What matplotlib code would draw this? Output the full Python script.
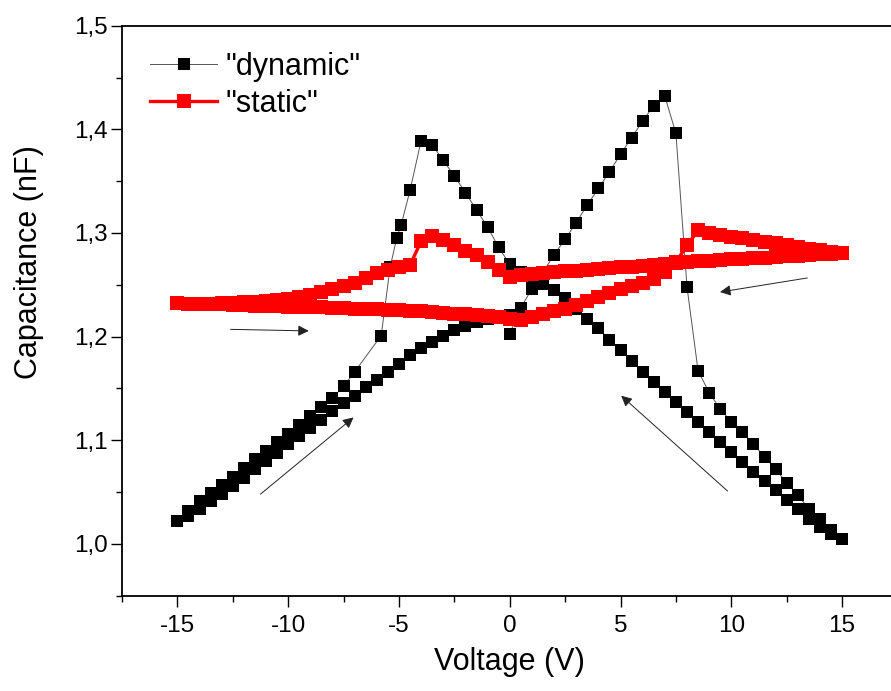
import matplotlib
matplotlib.use("Agg")
import matplotlib.pyplot as plt
from matplotlib.ticker import MultipleLocator, FuncFormatter

plt.rcParams['font.family'] = ['Liberation Sans', 'DejaVu Sans']

# "dynamic" sweep: 0 -> +15 V
dyn_fwd_v = [0, 0.5, 1, 1.5, 2, 2.5, 3, 3.5, 4, 4.5, 5, 5.5, 6, 6.5, 7, 7.5, 8, 8.5,
             9, 9.5, 10, 10.5, 11, 11.5, 12, 12.5, 13, 13.5, 14, 14.5, 15]
dyn_fwd_c = [1.203, 1.228, 1.246, 1.262, 1.279, 1.294, 1.310, 1.327, 1.343, 1.359,
             1.376, 1.392, 1.408, 1.423, 1.432, 1.396, 1.248, 1.167, 1.146, 1.130,
             1.118, 1.108, 1.096, 1.084, 1.072, 1.059, 1.047, 1.034, 1.024, 1.013, 1.005]

# "dynamic" sweep: +15 -> -15 V
dyn_rev_v = [14.5, 14, 13.5, 13, 12.5, 12, 11.5, 11, 10.5, 10, 9.5, 9, 8.5, 8, 7.5, 7,
             6.5, 6, 5.5, 5, 4.5, 4, 3.5, 3, 2.5, 2, 1.5, 1, 0.5, 0, -0.5, -1, -1.5, -2,
             -2.5, -3, -3.5, -4, -4.5, -4.9, -5.1, -5.4, -5.8, -7, -7.5, -8, -8.5, -9,
             -9.5, -10, -10.5, -11, -11.5, -12, -12.5, -13, -13.5, -14, -14.5, -15]
dyn_rev_c = [1.010, 1.016, 1.024, 1.034, 1.042, 1.052, 1.061, 1.069, 1.079, 1.089,
             1.098, 1.108, 1.118, 1.127, 1.137, 1.147, 1.156, 1.166, 1.176, 1.187,
             1.197, 1.208, 1.217, 1.227, 1.237, 1.245, 1.251, 1.256, 1.262, 1.270,
             1.286, 1.306, 1.322, 1.339, 1.355, 1.370, 1.385, 1.389, 1.341, 1.308,
             1.295, 1.267, 1.201, 1.166, 1.152, 1.141, 1.132, 1.123, 1.115, 1.106,
             1.098, 1.090, 1.082, 1.073, 1.065, 1.057, 1.049, 1.041, 1.032, 1.022]

# "dynamic" sweep: -15 -> 0 V
dyn_ret_v = [-14.5, -14, -13.5, -13, -12.5, -12, -11.5, -11, -10.5, -10, -9.5, -9,
             -8.5, -8, -7.5, -7, -6.5, -6, -5.5, -5, -4.5, -4, -3.5, -3, -2.5, -2,
             -1.5, -1, -0.5, 0]
dyn_ret_c = [1.027, 1.034, 1.041, 1.048, 1.056, 1.064, 1.072, 1.080, 1.088, 1.096,
             1.104, 1.112, 1.120, 1.128, 1.136, 1.143, 1.151, 1.158, 1.166, 1.174,
             1.182, 1.189, 1.195, 1.201, 1.206, 1.210, 1.214, 1.217, 1.219, 1.221]

# "static" sweep: -15 -> +15 V
st_fwd_v = [-15, -14.5, -14, -13.5, -13, -12.5, -12, -11.5, -11, -10.5, -10, -9.5, -9,
            -8.5, -8, -7.5, -7, -6.5, -6, -5.5, -5, -4.5, -4, -3.5, -3, -2.5, -2, -1.5,
            -1, -0.5, 0, 0.5, 1, 1.5, 2, 2.5, 3, 3.5, 4, 4.5, 5, 5.5, 6, 6.5, 7, 7.5,
            8, 8.5, 9, 9.5, 10, 10.5, 11, 11.5, 12, 12.5, 13, 13.5, 14, 14.5, 15]
st_fwd_c = [1.232, 1.2318, 1.2315, 1.2312, 1.231, 1.2307, 1.2305, 1.230, 1.2295,
            1.2292, 1.229, 1.2288, 1.2285, 1.2282, 1.228, 1.2275, 1.227, 1.2268,
            1.2265, 1.226, 1.2255, 1.225, 1.2245, 1.2238, 1.223, 1.2222, 1.2215,
            1.2208, 1.220, 1.2185, 1.2174, 1.216, 1.219, 1.222, 1.2245, 1.227, 1.2305,
            1.234, 1.2385, 1.242, 1.2455, 1.2485, 1.252, 1.256, 1.262, 1.272, 1.288,
            1.3025, 1.300, 1.298, 1.2965, 1.295, 1.293, 1.2915, 1.290, 1.288, 1.2865,
            1.285, 1.2835, 1.282, 1.2805]

# "static" sweep: +15 -> -15 V
st_rev_v = [14.5, 14, 13.5, 13, 12.5, 12, 11.5, 11, 10.5, 10, 9.5, 9, 8.5, 8, 7.5, 7,
            6.5, 6, 5.5, 5, 4.5, 4, 3.5, 3, 2.5, 2, 1.5, 1, 0.5, 0, -0.5, -1, -1.5, -2,
            -2.5, -3, -3.5, -4, -4.5, -5, -5.5, -6, -6.5, -7, -7.5, -8, -8.5, -9, -9.5,
            -10, -10.5, -11, -11.5, -12, -12.5, -13, -13.5, -14, -14.5, -15]
st_rev_c = [1.280, 1.2795, 1.279, 1.278, 1.2775, 1.277, 1.276, 1.2755, 1.275, 1.2745,
            1.274, 1.273, 1.2725, 1.272, 1.271, 1.270, 1.269, 1.268, 1.2675, 1.267,
            1.266, 1.265, 1.264, 1.2635, 1.263, 1.262, 1.261, 1.2605, 1.259, 1.258,
            1.264, 1.272, 1.2785, 1.283, 1.288, 1.293, 1.297, 1.292, 1.269, 1.267,
            1.2645, 1.261, 1.257, 1.252, 1.249, 1.246, 1.243, 1.240, 1.238, 1.2365,
            1.2355, 1.2345, 1.2338, 1.233, 1.2325, 1.232, 1.2318, 1.2316, 1.2314, 1.232]

# sweep-direction arrows: (tail_v, tail_c, head_v, head_c)
arrows = [(-11.25, 1.048, -7.05, 1.122),
          (9.83, 1.051, 5.03, 1.143),
          (-12.6, 1.207, -9.07, 1.2055),
          (13.43, 1.2566, 9.49, 1.243)]

dyn_v = dyn_fwd_v + dyn_rev_v + dyn_ret_v
dyn_c = dyn_fwd_c + dyn_rev_c + dyn_ret_c
st_v = st_fwd_v + st_rev_v
st_c = st_fwd_c + st_rev_c

fig = plt.figure(figsize=(8.91, 6.91), dpi=100)
ax = fig.add_axes([0.1369, 0.1379, 0.8704, 0.8249])

ax.plot(dyn_v, dyn_c, color='#555555', lw=0.7, marker='s', ms=9.2,
        mfc='black', mec='black', mew=0, label='"dynamic"', zorder=2)
ax.plot(st_v, st_c, color='red', lw=2.4, marker='s', ms=9.6,
        mfc='red', mec='red', mew=0, label='"static"', zorder=3)

for x0, y0, x1, y1 in arrows:
    ax.annotate("", xy=(x1, y1), xytext=(x0, y0),
                arrowprops=dict(arrowstyle='-|>', color='#222222', lw=0.7,
                                mutation_scale=16, shrinkA=0, shrinkB=0),
                zorder=4)

ax.set_xlim(-17.5, 17.5)
ax.set_ylim(0.95, 1.5)
ax.xaxis.set_major_locator(MultipleLocator(5))
ax.xaxis.set_minor_locator(MultipleLocator(2.5))
ax.yaxis.set_major_locator(MultipleLocator(0.1))
ax.yaxis.set_minor_locator(MultipleLocator(0.05))
ax.yaxis.set_major_formatter(FuncFormatter(lambda v, p: f"{v:.1f}".replace('.', ',')))
ax.xaxis.set_major_formatter(FuncFormatter(lambda v, p: f"{v:.0f}"))

ax.tick_params(which='major', direction='out', length=8, width=1.0, labelsize=17.5)
ax.tick_params(which='minor', direction='out', length=4.5, width=1.0)
ax.tick_params(axis='y', which='major', pad=2)
ax.tick_params(axis='x', which='major', pad=6)
for s in ax.spines.values():
    s.set_linewidth(1.3)

ax.set_xlabel("Voltage (V)", fontsize=22, labelpad=7)
ax.set_ylabel("Capacitance (nF)", fontsize=22)
ax.yaxis.set_label_coords(-0.1006, 0.585)

ax.legend(loc='upper left', bbox_to_anchor=(0.036, 0.954), frameon=False,
          fontsize=22, handlelength=2.2, handletextpad=0.28, labelspacing=0.22,
          borderaxespad=0, borderpad=0)

fig.savefig("out.png", dpi=100)
